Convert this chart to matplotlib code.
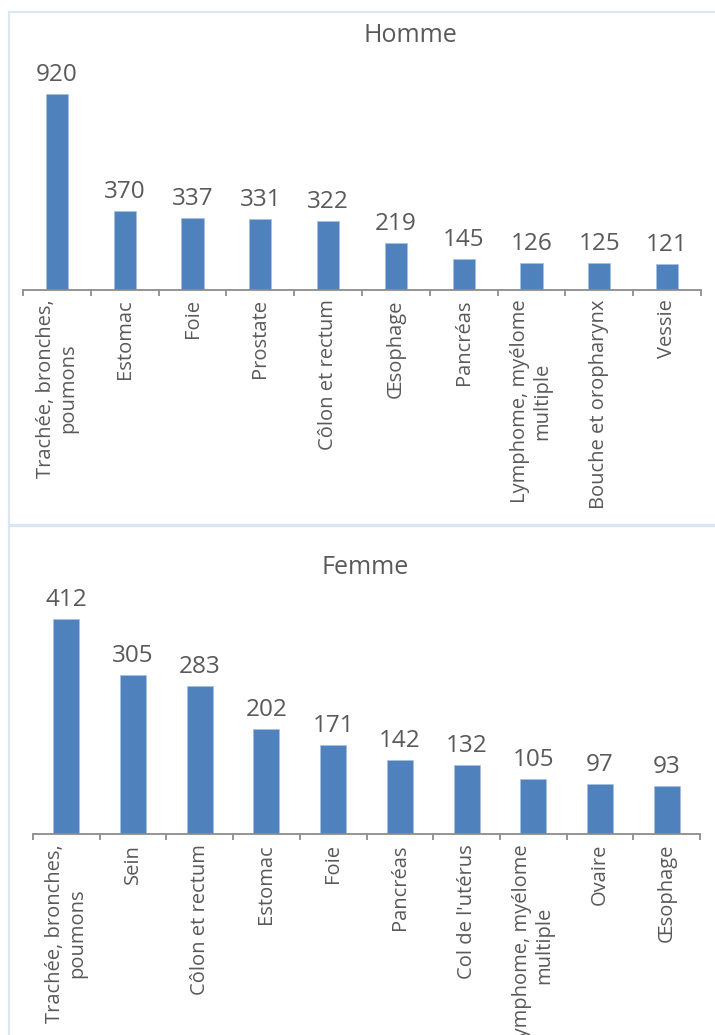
import matplotlib
matplotlib.use("Agg")
import matplotlib.pyplot as plt
from matplotlib.lines import Line2D

plt.rcParams['font.family'] = ['Open Sans', 'DejaVu Sans']

homme_labels = ["Trachée, bronches,\npoumons", "Estomac", "Foie", "Prostate",
                "Côlon et rectum", "Œsophage", "Pancréas",
                "Lymphome, myélome\nmultiple", "Bouche et oropharynx", "Vessie"]
homme_values = [920, 370, 337, 331, 322, 219, 145, 126, 125, 121]

femme_labels = ["Trachée, bronches,\npoumons", "Sein", "Côlon et rectum", "Estomac",
                "Foie", "Pancréas", "Col de l'utérus",
                "Lymphome, myélome\nmultiple", "Ovaire", "Œsophage"]
femme_values = [412, 305, 283, 202, 171, 142, 132, 105, 97, 93]

W, H = 715, 1035
fig = plt.figure(figsize=(W / 100, H / 100), dpi=100)

txt = '#595959'
bar_color = '#4F81BD'
axis_color = '#8C8C8C'
border = '#DCE6F2'


def px(x0, y_base, x1, y_top):
    # pixel box -> figure fractions
    return [x0 / W, 1 - y_base / H, (x1 - x0) / W, (y_base - y_top) / H]


def panel(rect, labels, values, ymax, width, title, title_xy):
    ax = fig.add_axes(rect)
    x = list(range(len(values)))
    ax.bar(x, values, width=width, color=bar_color, edgecolor='#A7BFDE', linewidth=0.5)
    for xi, v in zip(x, values):
        ax.annotate(str(v), (xi, v), xytext=(0, 5), textcoords='offset points',
                    ha='center', va='bottom', fontsize=17.5, color=txt, annotation_clip=False)
    ax.set_xlim(-0.5, len(values) - 0.5)
    ax.set_ylim(0, ymax)
    for s in ['top', 'right', 'left']:
        ax.spines[s].set_visible(False)
    ax.spines['bottom'].set_color(axis_color)
    ax.spines['bottom'].set_linewidth(1.3)
    ax.set_yticks([])
    # tick marks at category boundaries, labels at centres
    ax.set_xticks([i - 0.5 for i in range(len(values) + 1)])
    ax.set_xticklabels([])
    ax.tick_params(axis='x', which='major', length=4, width=1.3, color=axis_color)
    ax.set_xticks(x, minor=True)
    ax.set_xticklabels(labels, minor=True, rotation=90, fontsize=14.5, color=txt,
                       va='top', ha='center', multialignment='center',
                       linespacing=1.15)
    ax.tick_params(axis='x', which='minor', length=0, pad=7)
    fig.text(title_xy[0] / W, 1 - title_xy[1] / H, title, ha='center', va='center',
             fontsize=18, color=txt)
    return ax


panel(px(23, 289.5, 701, 76.7), homme_labels, homme_values, 1000, 0.325,
      "Homme", (410, 36))
panel(px(33, 834.3, 700, 598.9), femme_labels, femme_values, 450, 0.39,
      "Femme", (365, 567))

# cadres des graphiques
fig.add_artist(Line2D([9 / W, 9 / W], [0, 1 - 12 / H], transform=fig.transFigure,
                      color=border, linewidth=1.6))
fig.add_artist(Line2D([9 / W, 1], [1 - 12 / H, 1 - 12 / H], transform=fig.transFigure,
                      color=border, linewidth=1.6))
fig.add_artist(Line2D([9 / W, 1], [1 - 525 / H, 1 - 525 / H], transform=fig.transFigure,
                      color=border, linewidth=2.4))

fig.savefig("out.png", dpi=100, facecolor='white')
